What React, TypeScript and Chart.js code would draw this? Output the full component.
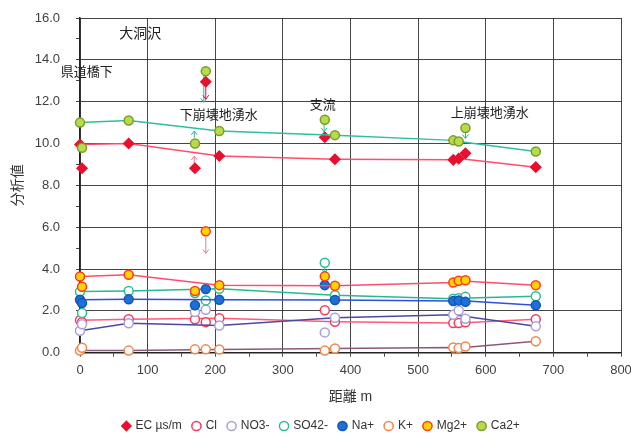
import React, { useEffect, useRef } from 'react';
import { Chart, registerables } from 'chart.js';
Chart.register(...registerables);

// distances (m)
const mainX = [0, 72, 206, 377, 552, 560, 674];
const extraX = [3, 170, 186, 362, 560, 570];

// series values: main stream line / side points (tributaries, springs)
const ecMain = [9.95, 10.0, 9.4, 9.25, 9.22, 9.28, 8.87];
const ecExtra = [8.82, 8.82, 12.95, 10.3, null, 9.53];
const clMain = [1.55, 1.6, 1.65, 1.48, 1.42, 1.42, 1.6];
const clExtra = [1.46, 1.6, 1.46, 2.03, null, 1.45];
const no3Main = [1.05, 1.41, 1.3, 1.67, 1.81, null, 1.26];
const no3Extra = [1.36, 1.94, 2.05, 0.97, 2.02, 1.62];
const so4Main = [2.92, 2.95, 3.06, 2.75, 2.58, 2.6, 2.7];
const so4Extra = [1.9, 2.85, 2.5, 4.3, null, 2.67];
const naMain = [2.53, 2.55, 2.53, 2.52, 2.47, 2.5, 2.27];
const naExtra = [2.37, 2.27, 3.04, 3.23, null, 2.43];
const kMain = [0.1, 0.1, 0.15, 0.2, 0.25, 0.22, 0.55];
const kExtra = [0.24, 0.16, 0.16, 0.1, null, 0.3];
const mgMain = [3.64, 3.73, 3.23, 3.2, 3.36, 3.44, 3.23];
const mgExtra = [3.15, 2.95, 5.8, 3.65, null, 3.46];
const caMain = [11.0, 11.1, 10.6, 10.4, 10.15, 10.1, 9.62];
const caExtra = [9.8, 10.0, 13.46, 11.14, null, 10.74];

const seriesNames = ['EC µs/m', 'Cl', 'NO3-', 'SO42-', 'Na+', 'K+', 'Mg2+', 'Ca2+'];

// annotation texts
const labelTexts = ['大洞沢', '県道橋下', '下崩壊地湧水', '支流', '上崩壊地湧水'];
const labelX = [89, 10, 205, 359, 606];
const labelY = [15.24, 13.38, 11.36, 11.84, 11.44];

// arrows: x, from, to
const arrowX = [169, 169, 183, 186, 186, 361, 362, 570];
const arrowFrom = [10.28, 9.04, 13.36, 12.8, 5.55, 10.96, 4.11, 10.56];
const arrowTo = [10.6, 9.4, 11.97, 12.12, 4.75, 10.56, 3.8, 10.24];
const arrowKind = ['teal', 'pink', 'teal', 'red', 'pink', 'teal', 'teal', 'teal'];

const styles = [
  { line: '#ff4d6a', fill: '#e8102e', stroke: '#e8102e', ps: 'rectRot' },
  { line: '#ff5a78', fill: '#ffffff', stroke: '#f43a5e', ps: 'circle' },
  { line: '#4a4aa0', fill: '#ffffff', stroke: '#a99fdc', ps: 'circle' },
  { line: '#27b98f', fill: '#ffffff', stroke: '#2bbf8f', ps: 'circle' },
  { line: '#2f4fe0', fill: '#1e6fd9', stroke: '#0f58b4', ps: 'circle' },
  { line: '#8a5878', fill: '#ffffff', stroke: '#f0864a', ps: 'circle' },
  { line: '#ff4d6a', fill: '#ffd400', stroke: '#ff3a1a', ps: 'circle' },
  { line: '#2cbfa3', fill: '#b5dc4a', stroke: '#7f9a2a', ps: 'circle' },
];
const arrowColors: Record<string, string> = { teal: '#2bb89a', pink: '#f07a90', red: '#e01030' };

const mains = [ecMain, clMain, no3Main, so4Main, naMain, kMain, mgMain, caMain];
const extras = [ecExtra, clExtra, no3Extra, so4Extra, naExtra, kExtra, mgExtra, caExtra];

const FONT = "'Liberation Sans', 'Noto Sans CJK JP', sans-serif";
const GRID = 'rgba(50,50,50,0.9)';

const annotPlugin = {
  id: 'annot',
  beforeDatasetsDraw(chart: any) {
    const { ctx, scales } = chart;
    const xs = scales.x, ys = scales.y;
    ctx.save();
    ctx.lineWidth = 1;
    arrowX.forEach((ax, i) => {
      const px = xs.getPixelForValue(ax);
      const p0 = ys.getPixelForValue(arrowFrom[i]);
      const p1 = ys.getPixelForValue(arrowTo[i]);
      ctx.strokeStyle = arrowColors[arrowKind[i]];
      ctx.beginPath();
      ctx.moveTo(px, p0);
      ctx.lineTo(px, p1);
      const d = p1 > p0 ? -1 : 1;
      ctx.moveTo(px - 3, p1 + d * 4);
      ctx.lineTo(px, p1);
      ctx.lineTo(px + 3, p1 + d * 4);
      ctx.stroke();
    });
    ctx.restore();
  },
  afterDatasetsDraw(chart: any) {
    const { ctx, scales } = chart;
    const xs = scales.x, ys = scales.y;
    ctx.save();
    ctx.fillStyle = '#222';
    ctx.textAlign = 'center';
    ctx.textBaseline = 'middle';
    labelTexts.forEach((t, i) => {
      ctx.font = (i === 0 ? '14px ' : '13px ') + FONT;
      ctx.fillText(t, xs.getPixelForValue(labelX[i]), ys.getPixelForValue(labelY[i]));
    });
    ctx.restore();
  },
};

export default function App() {
  const ref = useRef<HTMLCanvasElement>(null);
  useEffect(() => {
    const datasets: any[] = [];
    seriesNames.forEach((name, i) => {
      const s = styles[i];
      const common = {
        pointStyle: s.ps,
        pointRadius: i === 0 ? 5 : 4.5,
        pointBackgroundColor: s.fill,
        pointBorderColor: s.stroke,
        pointBorderWidth: 1.5,
        borderColor: s.line,
        backgroundColor: s.fill,
        borderWidth: 1.5,
        tension: 0,
        spanGaps: true,
        clip: false,
      };
      datasets.push({
        ...common,
        label: name,
        data: mainX.map((x, j) => ({ x, y: mains[i][j] })),
        showLine: true,
        order: 40 - i * 2,
      });
      datasets.push({
        ...common,
        label: name + ' ',
        data: extraX.map((x, j) => ({ x, y: extras[i][j] })),
        showLine: false,
        order: 39 - i * 2,
      });
    });

    const chart = new Chart(ref.current!, {
      type: 'scatter',
      data: { datasets },
      plugins: [annotPlugin],
      options: {
        animation: false,
        responsive: true,
        maintainAspectRatio: false,
        layout: { padding: { left: 22, right: 10, top: 18, bottom: -9 } },
        plugins: {
          tooltip: { enabled: false },
          legend: {
            position: 'bottom',
            labels: {
              font: { family: FONT, size: 12 },
              color: '#333',
              usePointStyle: true,
              boxHeight: 6.5,
              boxWidth: 6.5,
              padding: 11.3,
              generateLabels: () =>
                seriesNames.map((name, i) => ({
                  text: name,
                  fillStyle: styles[i].fill,
                  strokeStyle: styles[i].stroke,
                  lineWidth: 1.5,
                  pointStyle: styles[i].ps,
                  datasetIndex: i * 2,
                  hidden: false,
                  fontColor: '#333',
                })),
            },
          },
        },
        scales: {
          x: {
            type: 'linear',
            min: 0,
            max: 800,
            ticks: {
              stepSize: 50,
              autoSkip: false,
              maxRotation: 0,
              padding: 6,
              color: '#404040',
              font: { family: FONT, size: 13 },
              callback: (v: any) => (v % 100 === 0 ? String(v) : ''),
            },
            grid: {
              color: (c: any) => (c.tick && c.tick.value % 100 === 0 ? GRID : 'transparent'),
              tickColor: GRID,
              tickLength: 4,
            },
            border: { color: '#222', width: 1.5 },
            title: {
              display: true,
              text: '距離 m',
              color: '#333',
              font: { family: FONT, size: 14 },
              padding: { top: 0, bottom: 3 },
            },
            afterFit: (s: any) => {
              s.height = 56;
              s.paddingRight = 0;
              s.paddingLeft = 0;
            },
          },
          y: {
            type: 'linear',
            min: 0,
            max: 16,
            ticks: {
              stepSize: 1,
              autoSkip: false,
              padding: 16,
              color: '#404040',
              font: { family: FONT, size: 13 },
              callback: (v: any) => (v % 2 === 0 ? Number(v).toFixed(1) : ''),
            },
            grid: {
              color: (c: any) => (c.tick && c.tick.value % 2 === 0 ? GRID : 'transparent'),
              tickColor: GRID,
              tickLength: 4,
            },
            border: { color: '#222', width: 1.5 },
            title: {
              display: true,
              text: '分析値',
              color: '#333',
              font: { family: FONT, size: 14 },
              padding: { top: -12, bottom: 0 },
            },
            afterFit: (s: any) => {
              s.width = 58;
              s.paddingTop = 0;
              s.paddingBottom = 0;
            },
          },
        },
      } as any,
    });
    return () => chart.destroy();
  }, []);

  return (
    <div style={{ position: 'fixed', left: 0, top: 0, width: 631, height: 433, background: '#fff' }}>
      <canvas ref={ref} />
    </div>
  );
}
